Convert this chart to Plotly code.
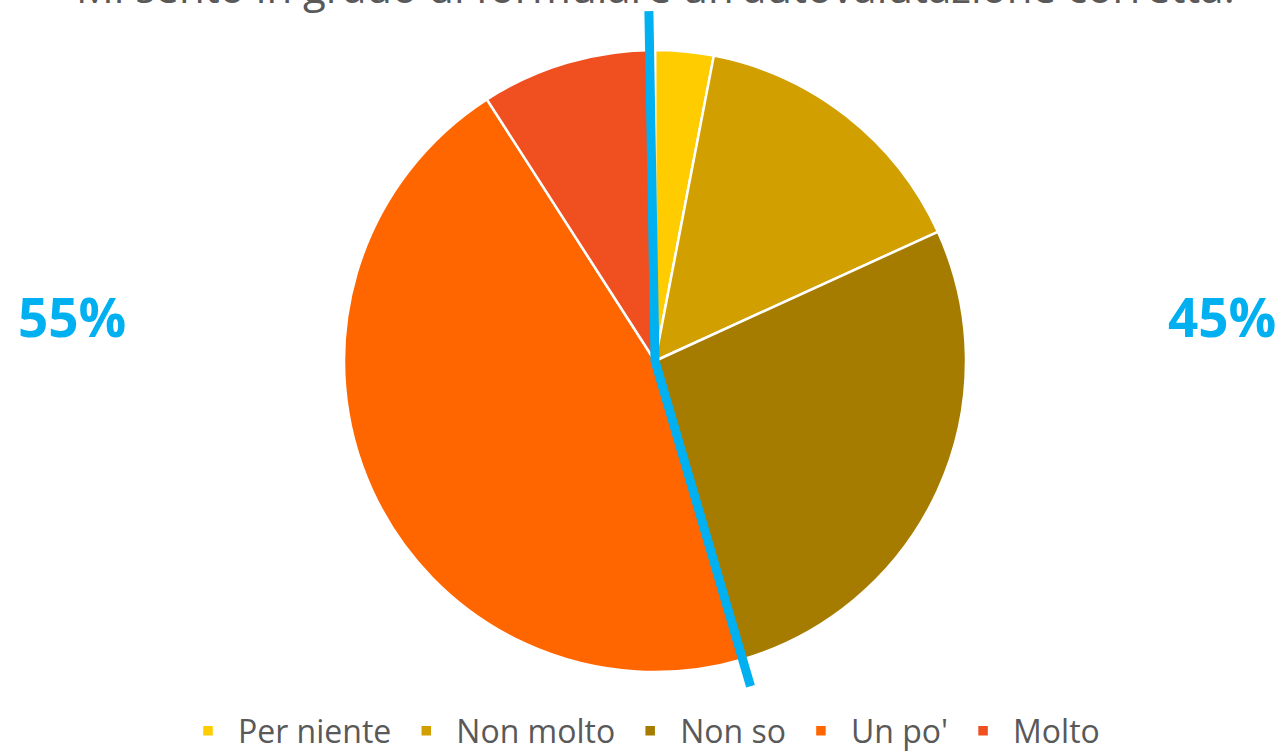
import math
import plotly.graph_objects as go

# risposte alla domanda (numero di persone)
categories = ['Per niente', 'Non molto', 'Non so', "Un po'", 'Molto']
counts = [1, 5, 9, 15, 3]
colors = ['#FFCC00', '#D19F00', '#A57C00', '#FF6600', '#F04F1F']
title_text = "Mi sento in grado di formulare un'autovalutazione corretta."

W, H = 1283, 751
cx, cy, r = 655, 361, 311  # centro e raggio della torta in pixel
blue = '#00B0F0'

total = sum(counts)
share_neg = sum(counts[:3]) / total  # Per niente + Non molto + Non so
share_pos = 1 - share_neg


def to_paper(px, py):
    return px / W, 1 - py / H


def ray(frac, length, offset_deg=0):
    ang = math.radians(frac * 360 + offset_deg)
    return cx + length * math.sin(ang), cy - length * math.cos(ang)


fig = go.Figure(go.Pie(
    labels=categories,
    values=counts,
    sort=False,
    direction='clockwise',
    rotation=0,
    textinfo='none',
    hoverinfo='label+percent',
    marker=dict(colors=colors, line=dict(color='white', width=2.5)),
    domain=dict(x=[(cx - r) / W, (cx + r) / W], y=[1 - (cy + r) / H, 1 - (cy - r) / H]),
))

# linea blu che divide le due metà
x0, y0 = to_paper(*ray(0, r * 1.125, -1))
x1, y1 = to_paper(cx, cy)
x2, y2 = to_paper(*ray(share_neg, r * 1.09))
fig.add_shape(type='path', xref='paper', yref='paper',
              path=f'M {x0},{y0} L {x1},{y1} L {x2},{y2}',
              line=dict(color=blue, width=9))

fig.add_annotation(text=f'{round(share_pos * 100)}%', x=72 / W, y=1 - 316 / H,
                   xref='paper', yref='paper', xanchor='center', yanchor='middle', showarrow=False,
                   font=dict(family='Open Sans', size=53, color=blue, weight='bold'))
fig.add_annotation(text=f'{round(share_neg * 100)}%', x=1222 / W, y=1 - 316 / H,
                   xref='paper', yref='paper', xanchor='center', yanchor='middle', showarrow=False,
                   font=dict(family='Open Sans', size=53, color=blue, weight='bold'))

fig.add_annotation(text=title_text, x=655 / W, y=1 + 13 / H, xref='paper', yref='paper',
                   xanchor='center', yanchor='middle', showarrow=False,
                   font=dict(family='Open Sans', size=42, color='#595959'))

fig.update_layout(
    width=W, height=H,
    margin=dict(l=0, r=0, t=0, b=0, autoexpand=False),
    paper_bgcolor='white',
    plot_bgcolor='white',
    showlegend=True,
    legend=dict(orientation='h', x=0.5, xanchor='center', y=-0.01, yanchor='bottom',
                font=dict(family='Open Sans', size=32, color='#595959'),
                itemwidth=50, traceorder='normal'),
)

# niente margine della pagina, così la figura parte da (0, 0)
fig.write_html('out.html', config={'displayModeBar': False},
               post_script="document.body.style.margin = '0';")
